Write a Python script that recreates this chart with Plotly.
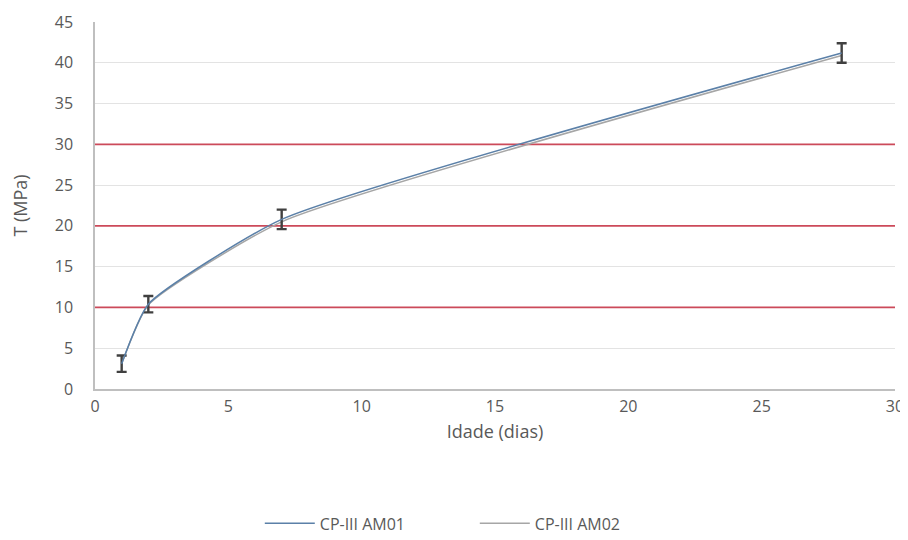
import plotly.graph_objects as go

days = [1, 2, 7, 28]
am01 = [3.1, 10.4, 20.8, 41.2]
am02 = [3.1, 10.3, 20.5, 40.9]
err = [1.0, 1.0, 1.2, 1.2]
series_names = ["CP-III AM01", "CP-III AM02"]
limits = [10, 20, 30]
x_ticks = [0, 5, 10, 15, 20, 25, 30]
y_ticks = [0, 5, 10, 15, 20, 25, 30, 35, 40, 45]

font_family = "Open Sans, Liberation Sans, sans-serif"
text_color = "#595959"

fig = go.Figure()
for lv in limits:
    fig.add_trace(go.Scatter(
        x=[x_ticks[0], x_ticks[-1]], y=[lv, lv], mode="lines", showlegend=False,
        hoverinfo="skip", line=dict(color="#cc4a5a", width=1.8),
    ))
fig.add_trace(go.Scatter(
    x=days, y=am02, name=series_names[1], mode="lines",
    line=dict(color="#a6a6a6", width=1.5, shape="spline", smoothing=0.5),
))
fig.add_trace(go.Scatter(
    x=days, y=am01, name=series_names[0], mode="lines",
    line=dict(color="#5b80a8", width=1.5, shape="spline", smoothing=0.5),
    error_y=dict(type="data", array=err, visible=True, color="#404040",
                 thickness=2.4, width=5),
))

fig.update_layout(
    width=900, height=532,
    paper_bgcolor="white", plot_bgcolor="white",
    margin=dict(l=87, r=13, t=14, b=151, autoexpand=False),
    font=dict(family=font_family, size=16, color=text_color),
    showlegend=True,
    legend=dict(orientation="h", x=0.206, xanchor="left", y=-0.32, yanchor="top",
                traceorder="reversed", font=dict(size=16, color=text_color),
                itemwidth=50, entrywidth=150, entrywidthmode="pixels"),
    xaxis=dict(range=[0, 30], tickvals=x_ticks, showgrid=False, zeroline=False,
               showline=True, linecolor="#bfbfbf", linewidth=1.5, ticks="",
               ticklabelstandoff=2, automargin=False,
               title=dict(text="Idade (dias)", font=dict(size=18, color=text_color), standoff=9)),
    yaxis=dict(range=[0, 45], tickvals=y_ticks, showgrid=True, gridcolor="#e3e3e3",
               gridwidth=1, zeroline=False, showline=True, linecolor="#bfbfbf",
               linewidth=1.5, ticks="", ticklabelstandoff=17, automargin=False,
               title=dict(text="T (MPa)", font=dict(size=18, color=text_color), standoff=27)),
)

fig.write_html("out.html")
